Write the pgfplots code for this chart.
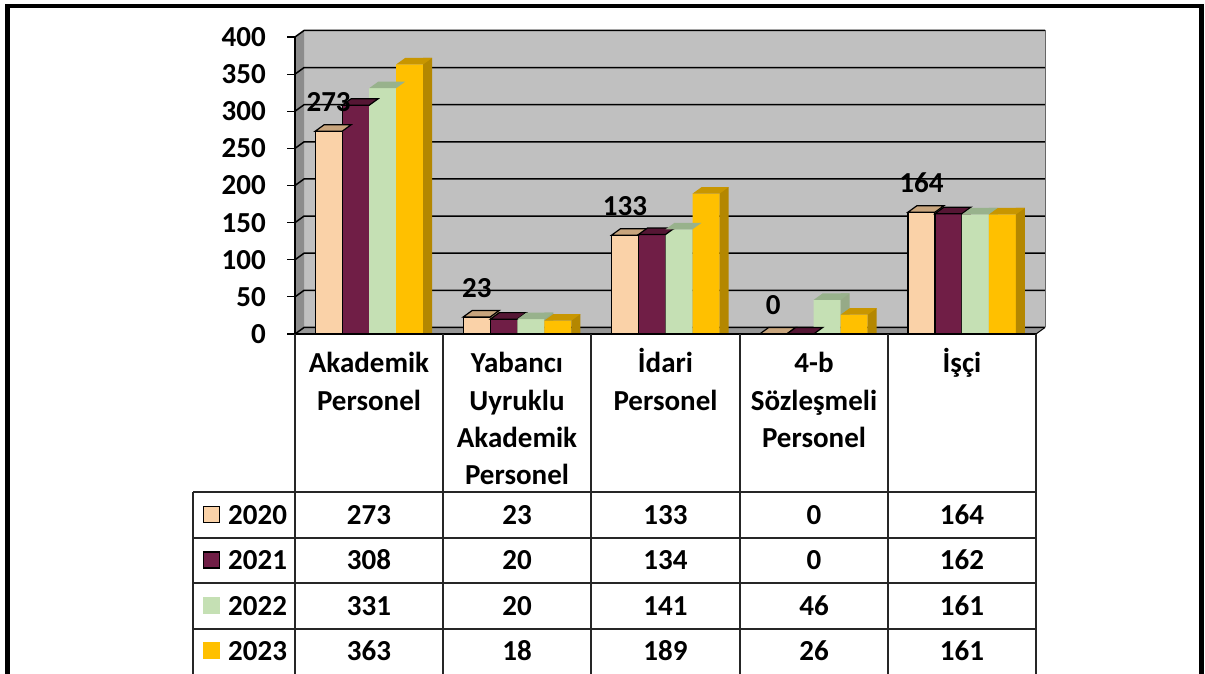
\documentclass[border=0pt]{standalone}
\usepackage{fontspec}
\setmainfont{Carlito}
\usepackage{pgfplots}
\usepackage{pgfplotstable}
\pgfplotsset{compat=1.18}
\definecolor{wall}{RGB}{192,192,192}
\definecolor{sidewall}{RGB}{140,140,140}
\definecolor{floorc}{RGB}{150,150,150}
\definecolor{aF}{RGB}{250,210,168}
\definecolor{aT}{RGB}{200,165,125}
\definecolor{aS}{RGB}{195,158,118}
\definecolor{bF}{RGB}{112,30,70}
\definecolor{bT}{RGB}{85,22,52}
\definecolor{bS}{RGB}{80,20,48}
\definecolor{cF}{RGB}{197,224,180}
\definecolor{cT}{RGB}{152,178,140}
\definecolor{cS}{RGB}{150,170,135}
\definecolor{dF}{RGB}{255,192,0}
\definecolor{dT}{RGB}{200,150,0}
\definecolor{dS}{RGB}{180,135,0}
\newcommand\bigf{\fontsize{29}{37}\selectfont\bfseries}
\pgfdeclareplotmark{topfs}{%
  \pgfpathmoveto{\pgfpoint{-13.5pt}{0pt}}%
  \pgfpathlineto{\pgfpoint{13.5pt}{0pt}}%
  \pgfpathlineto{\pgfpoint{22.5pt}{6.5pt}}%
  \pgfpathlineto{\pgfpoint{-4.5pt}{6.5pt}}%
  \pgfpathclose\pgfusepathqfillstroke}
\pgfdeclareplotmark{topf}{%
  \pgfpathmoveto{\pgfpoint{-13.5pt}{0pt}}%
  \pgfpathlineto{\pgfpoint{13.5pt}{0pt}}%
  \pgfpathlineto{\pgfpoint{22.5pt}{6.5pt}}%
  \pgfpathlineto{\pgfpoint{-4.5pt}{6.5pt}}%
  \pgfpathclose\pgfusepathqfill}
\pgfplotstableread{
x y20 y21 y22 y23
0 273 308 331 363
1 23 20 20 18
2 133 134 141 189
3 0 0 46 26
4 164 162 161 161
}\data
\begin{document}
\begin{tikzpicture}[x=1pt,y=1pt]
\useasboundingbox (0,0) rectangle (1205,673);
\clip (0,0) rectangle (1205,673);
\fill[white] (0,0) rectangle (1205,673);
% 3D background
\fill[wall] (304,345.5) rectangle (1045,642.5);
\fill[sidewall] (295,339) -- (304,345.5) -- (304,642.5) -- (295,636) -- cycle;
\fill[floorc] (295,339) -- (1036,339) -- (1045,345.5) -- (304,345.5) -- cycle;
\foreach \v in {0,50,...,400} {
  \draw[line width=1.5pt] (295,339+0.7425*\v) -- (304,345.5+0.7425*\v) -- (1045,345.5+0.7425*\v);
}
\draw[black!60, line width=1pt] (1045,345.5) -- (1045,642.5);
\draw[line width=1pt] (1036,339) -- (1045,345.5);
\begin{axis}[
  at={(295pt,339pt)}, anchor=south west, scale only axis,
  width=741pt, height=297pt,
  xmin=-0.5, xmax=4.5, ymin=0, ymax=400, clip=false,
  axis x line=none, axis y line*=left,
  y axis line style={line width=1.2pt},
  xtick=\empty, ytick={0,50,...,400},
  tick align=outside, major tick length=8pt,
  ytick style={line width=1.2pt, black},
  /pgf/number format/assume math mode=true,
  yticklabel style={font=\bigf, inner sep=0pt, anchor=east, xshift=-21pt},
  every node near coord/.append style={font=\bigf, inner sep=0pt, anchor=south, yshift=19pt},
]
% 2020
\addplot[ybar, bar width=27pt, bar shift=-40.5pt, fill=aF, draw=black, line width=1.2pt] table[x=x,y=y20]{\data};
\addplot[ybar, bar width=9pt, bar shift=-22.5pt, fill=aS, draw=none, restrict y to domain=9:1000] table[x=x,y expr=\thisrow{y20}+8.75]{\data};
\addplot[only marks, mark=topfs, mark options={fill=aT, draw=black, line width=1.2pt}] table[x expr=\thisrow{x}-0.2733, y=y20]{\data};
% 2021
\addplot[ybar, bar width=27pt, bar shift=-13.5pt, fill=bF, draw=black, line width=1.2pt] table[x=x,y=y21]{\data};
\addplot[ybar, bar width=9pt, bar shift=4.5pt, fill=bS, draw=none, restrict y to domain=9:1000] table[x=x,y expr=\thisrow{y21}+8.75]{\data};
\addplot[only marks, mark=topfs, mark options={fill=bT, draw=black, line width=1.2pt}] table[x expr=\thisrow{x}-0.0911, y=y21]{\data};
% 2022
\addplot[ybar, bar width=27pt, bar shift=13.5pt, fill=cF, draw=none] table[x=x,y=y22]{\data};
\addplot[ybar, bar width=9pt, bar shift=31.5pt, fill=cS, draw=none, restrict y to domain=9:1000] table[x=x,y expr=\thisrow{y22}+8.75]{\data};
\addplot[only marks, mark=topf, mark options={fill=cT}] table[x expr=\thisrow{x}+0.0911, y=y22]{\data};
% 2023
\addplot[ybar, bar width=27pt, bar shift=40.5pt, fill=dF, draw=none] table[x=x,y=y23]{\data};
\addplot[ybar, bar width=9pt, bar shift=58.5pt, fill=dS, draw=none, restrict y to domain=9:1000] table[x=x,y expr=\thisrow{y23}+8.75]{\data};
\addplot[only marks, mark=topf, mark options={fill=dT}] table[x expr=\thisrow{x}+0.2733, y=y23]{\data};
% data labels (2020)
\addplot[draw=none, mark=none, nodes near coords] table[x expr=\thisrow{x}-0.2733, y=y20]{\data};
\end{axis}
% data table
\draw[line width=1.2pt] (295,339) -- (1036,339);
\begin{scope}[line width=1.2pt, black!85]
\foreach \x in {295,443,591,740,888,1036} \draw (\x,339) -- (\x,-5);
\draw (193,181) -- (193,-5);
\foreach \y in {181,135,90,44,-2} \draw (193,\y) -- (1036,\y);
\end{scope}
\begin{scope}[every node/.style={font=\bigf, inner sep=0pt, anchor=base}]
\node at (369,300) {Akademik};
\node at (369,263) {Personel};
\node at (517,300) {Yabancı};
\node at (517,263) {Uyruklu};
\node at (517,226) {Akademik};
\node at (517,189) {Personel};
\node at (665.5,300) {İdari};
\node at (665.5,263) {Personel};
\node at (814,300) {4-b};
\node at (814,263) {Sözleşmeli};
\node at (814,226) {Personel};
\node at (962,300) {İşçi};
% rows
\node[anchor=base west] at (228,149) {2020};
\node[anchor=base west] at (228,103.5) {2021};
\node[anchor=base west] at (228,58) {2022};
\node[anchor=base west] at (228,13) {2023};
\node at (369,149) {273}; \node at (517,149) {23}; \node at (665.5,149) {133}; \node at (814,149) {0}; \node at (962,149) {164};
\node at (369,103.5) {308}; \node at (517,103.5) {20}; \node at (665.5,103.5) {134}; \node at (814,103.5) {0}; \node at (962,103.5) {162};
\node at (369,58) {331}; \node at (517,58) {20}; \node at (665.5,58) {141}; \node at (814,58) {46}; \node at (962,58) {161};
\node at (369,13) {363}; \node at (517,13) {18}; \node at (665.5,13) {189}; \node at (814,13) {26}; \node at (962,13) {161};
\end{scope}
% legend keys
\filldraw[fill=aF, draw=black, line width=1.5pt] (203.5,150.5) rectangle (219.5,166.5);
\filldraw[fill=bF, draw=black, line width=1.5pt] (203.5,105) rectangle (219.5,121);
\fill[cF] (203,59.5) rectangle (220,76.5);
\fill[dF] (203,14.5) rectangle (220,31.5);
% outer frame
\draw[line width=4.5pt] (7.5,-10) -- (7.5,667) -- (1201.5,667) -- (1201.5,-10);
\end{tikzpicture}
\end{document}
